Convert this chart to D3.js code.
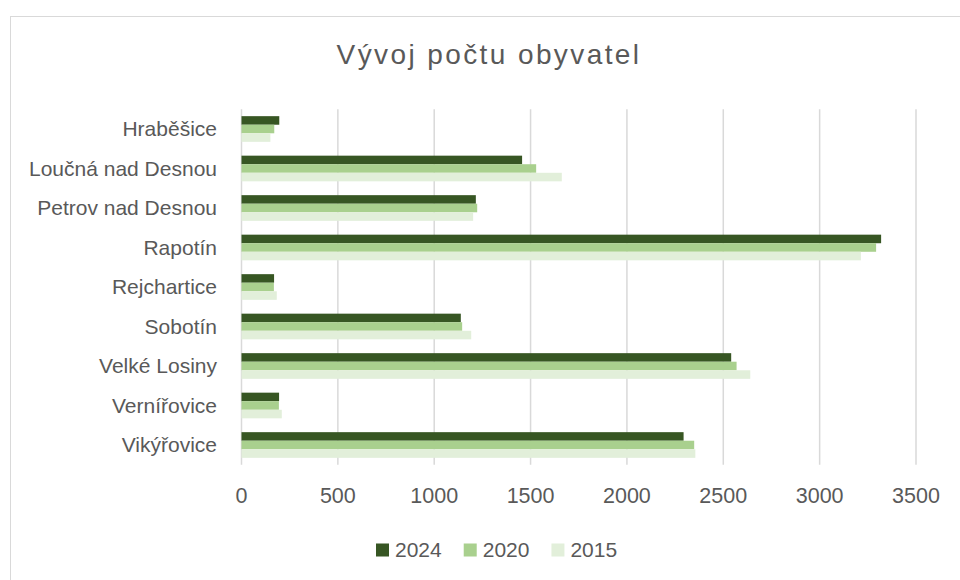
<!DOCTYPE html>
<html lang="cs">
  <head>
    <meta charset="UTF-8" />
    <title>Vývoj počtu obyvatel</title>
    <script src="https://d3js.org/d3.v7.min.js"></script>
    <style>
      body {
        margin: 0;
        background: #fff;
      }
      text {
        font-family: "Liberation Sans", Arial, sans-serif;
        fill: #595959;
      }
      .grid line {
        stroke: #d9d9d9;
        stroke-width: 1.5px;
      }
    </style>
  </head>

  <body>
    <svg id="chart" width="960" height="580"></svg>
    <script>
      const towns = [
        "Hraběšice",
        "Loučná nad Desnou",
        "Petrov nad Desnou",
        "Rapotín",
        "Rejchartice",
        "Sobotín",
        "Velké Losiny",
        "Vernířovice",
        "Vikýřovice",
      ];
      const years = ["2024", "2020", "2015"];
      const pop2024 = [196, 1456, 1216, 3319, 169, 1138, 2541, 195, 2294];
      const pop2020 = [170, 1529, 1223, 3293, 168, 1145, 2569, 194, 2349];
      const pop2015 = [150, 1662, 1202, 3214, 183, 1192, 2640, 209, 2355];
      const xTicks = [0, 500, 1000, 1500, 2000, 2500, 3000, 3500];
      const colors = ["#375623", "#a9d08e", "#e2efda"];

      const series = { 2024: pop2024, 2020: pop2020, 2015: pop2015 };

      const svg = d3.select("#chart");
      const plot = { left: 241.5, right: 916, top: 109.25, bottom: 464.75 };

      // outer chart border (extends past the visible area)
      svg
        .append("rect")
        .attr("x", 10.5)
        .attr("y", 16.5)
        .attr("width", 1000)
        .attr("height", 1000)
        .attr("fill", "none")
        .attr("stroke", "#d9d9d9");

      svg
        .append("text")
        .attr("x", 489)
        .attr("y", 64)
        .attr("text-anchor", "middle")
        .style("font-size", "28px")
        .style("letter-spacing", "2.4px")
        .text("Vývoj počtu obyvatel");

      const x = d3
        .scaleLinear()
        .domain([0, 3500])
        .range([plot.left, plot.right]);

      const y = d3
        .scaleBand()
        .domain(towns)
        .range([plot.top, plot.bottom]);

      const groupH = y.bandwidth() * 0.65;
      const yInner = d3.scaleBand().domain(years).range([0, groupH]);
      const color = d3.scaleOrdinal().domain(years).range(colors);

      // vertical gridlines
      svg
        .append("g")
        .attr("class", "grid")
        .selectAll("line")
        .data(xTicks)
        .join("line")
        .attr("x1", (d) => x(d))
        .attr("x2", (d) => x(d))
        .attr("y1", plot.top)
        .attr("y2", plot.bottom);

      // x tick labels
      svg
        .append("g")
        .selectAll("text")
        .data(xTicks)
        .join("text")
        .attr("x", (d) => x(d))
        .attr("y", 503)
        .attr("text-anchor", "middle")
        .style("font-size", "21.5px")
        .text((d) => d);

      // category labels
      svg
        .append("g")
        .selectAll("text")
        .data(towns)
        .join("text")
        .attr("x", 217)
        .attr("y", (d) => y(d) + y.bandwidth() / 2)
        .attr("dy", "0.35em")
        .attr("text-anchor", "end")
        .style("font-size", "21px")
        .text((d) => d);

      // bars
      const groups = svg
        .append("g")
        .selectAll("g")
        .data(towns)
        .join("g")
        .attr(
          "transform",
          (d) => `translate(0,${y(d) + (y.bandwidth() - groupH) / 2})`
        );

      groups
        .selectAll("rect")
        .data((d, i) => years.map((yr) => ({ yr: yr, v: series[yr][i] })))
        .join("rect")
        .attr("x", x(0))
        .attr("y", (d) => yInner(d.yr))
        .attr("width", (d) => x(d.v) - x(0))
        .attr("height", yInner.bandwidth())
        .attr("fill", (d) => color(d.yr));

      // legend
      const legend = svg.append("g");
      const size = 13;
      let lx = 376;
      years.forEach((yr) => {
        const item = legend.append("g").attr("transform", `translate(${lx},0)`);
        item
          .append("rect")
          .attr("x", 0)
          .attr("y", 543.5)
          .attr("width", size)
          .attr("height", size)
          .attr("fill", color(yr));
        const t = item
          .append("text")
          .attr("x", size + 6)
          .attr("y", 557)
          .style("font-size", "21px")
          .text(yr);
        lx += size + 6 + t.node().getComputedTextLength() + 22;
      });
    </script>
  </body>
</html>
